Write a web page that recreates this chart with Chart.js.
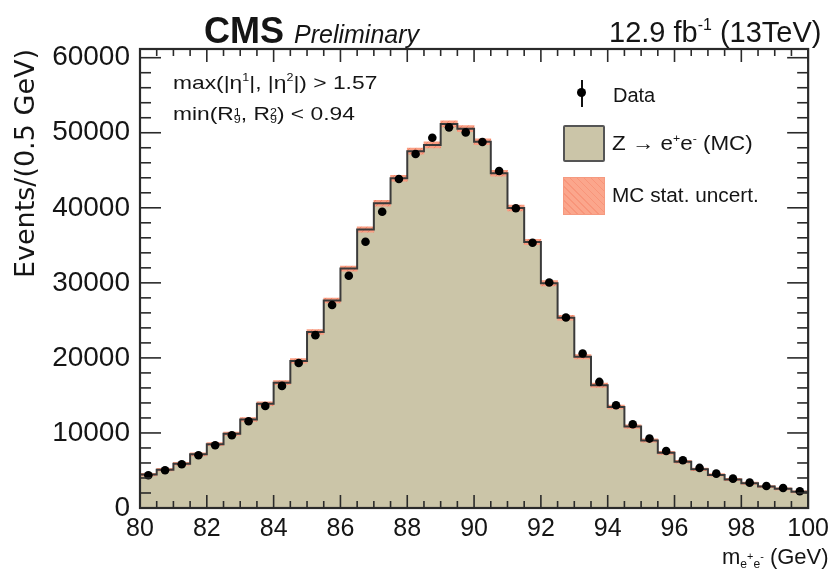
<!DOCTYPE html>
<html><head><meta charset="utf-8">
<script src="https://cdn.jsdelivr.net/npm/chart.js@4.4.1/dist/chart.umd.min.js"></script>
<style>
html,body{margin:0;padding:0;background:#fff;}
#wrap{position:relative;width:835px;height:574px;overflow:hidden;font-family:'Liberation Sans',Arial,Helvetica,sans-serif;color:#151515;}
canvas{position:absolute;left:0;top:0;}
.t{position:absolute;white-space:nowrap;line-height:1;transform-origin:0 0;}
.sp{font-size:0.55em;vertical-align:0.75em;}
.sb{font-size:0.55em;vertical-align:-0.3em;}
.ss{display:inline-block;vertical-align:-0.25em;line-height:0.62;font-size:0.55em;text-align:left;}
</style></head><body>
<div id="wrap">
<canvas id="c" width="835" height="574"></canvas>
<div class="t" style="left:204px;top:13px;font-size:36px;font-weight:bold;">CMS</div>
<div class="t" style="left:294px;top:22px;font-size:25px;font-style:italic;">Preliminary</div>
<div class="t" style="left:609px;top:17px;font-size:29px;">12.9 fb<span class="sp">-1</span> (13TeV)</div>
<div class="t" style="left:173px;top:73px;font-size:19px;transform:scaleX(1.2);">max(|η<span class="sp">1</span>|, |η<span class="sp">2</span>|) &gt; 1.57</div>
<div class="t" style="left:173px;top:104px;font-size:19px;transform:scaleX(1.2);">min(R<span class="ss">1<br>9</span>, R<span class="ss">2<br>9</span>) &lt; 0.94</div>
<div style="position:absolute;left:581px;top:80px;width:2px;height:27px;background:#111;"></div>
<div style="position:absolute;left:577px;top:88px;width:9px;height:9px;border-radius:50%;background:#000;"></div>
<div class="t" style="left:613px;top:85px;font-size:20px;">Data</div>
<div style="position:absolute;left:563px;top:125px;width:38px;height:33px;background:#cbc5a8;border:2px solid #555;border-radius:2px;"></div>
<div class="t" style="left:612px;top:133px;font-size:20px;transform:scaleX(1.12);">Z → e<span class="sp">+</span>e<span class="sp">-</span> (MC)</div>
<div style="position:absolute;left:563px;top:177px;width:40px;height:36px;background:repeating-linear-gradient(45deg,#fba68c 0px,#fba68c 4px,#f8957a 4px,#f8957a 5px);border:1px solid #f59a80;"></div>
<div class="t" style="left:612px;top:185px;font-size:20px;transform:scaleX(1.04);">MC stat. uncert.</div>
<div class="t" style="left:722px;top:546px;font-size:22px;">m<span class="sb">e<span class="sp" style="font-size:0.9em">+</span>e<span class="sp" style="font-size:0.9em">-</span></span> (GeV)</div>
</div>
<script>
// ---- data ----
const binLowEdges = [80.0,80.5,81.0,81.5,82.0,82.5,83.0,83.5,84.0,84.5,85.0,85.5,86.0,86.5,87.0,87.5,88.0,88.5,89.0,89.5,
                     90.0,90.5,91.0,91.5,92.0,92.5,93.0,93.5,94.0,94.5,95.0,95.5,96.0,96.5,97.0,97.5,98.0,98.5,99.0,99.5];
const binWidth = 0.5;
const dataEvents = [4360,5030,5830,7030,8360,9690,11560,13600,16270,19330,23030,27050,30940,35470,39480,43830,47160,49340,50720,50050,
                    48760,44900,39950,35340,30050,25390,20590,16800,13690,11160,9250,7600,6360,5340,4580,3910,3380,2940,2670,2230];
const mcEvents   = [4450,5100,5900,7150,8500,9900,11800,13900,16700,19600,23450,27650,31900,37100,40600,43950,47550,48380,51180,50550,
                    48800,44600,39980,35450,29950,25350,20150,16350,13450,10850,9000,7350,6150,5150,4400,3800,3300,2850,2550,2150];
const mcStatUnc  = [160,170,180,200,210,230,250,260,280,300,310,330,350,360,380,390,400,400,410,410,
                    400,390,380,360,350,320,300,280,250,230,220,200,190,180,170,160,150,150,140,140];
const xTickLabels = [80,82,84,86,88,90,92,94,96,98,100];
const yTickLabels = [0,10000,20000,30000,40000,50000,60000];
const xRange = [80,100];
const yRange = [0,61160];

// ---- derived tables ----
const stepPts = binLowEdges.map((e,i)=>({x:e,y:mcEvents[i]}));
stepPts.push({x:binLowEdges[binLowEdges.length-1]+binWidth,y:mcEvents[mcEvents.length-1]});
const bandPts = binLowEdges.map((e,i)=>({x:e+binWidth/2,y:[mcEvents[i]-mcStatUnc[i],mcEvents[i]+mcStatUnc[i]]}));
const dataPts = binLowEdges.map((e,i)=>({x:e+binWidth/2,y:dataEvents[i]}));

const ctx = document.getElementById('c').getContext('2d');
function hatch(){
  const c=document.createElement('canvas'); c.width=c.height=6;
  const g=c.getContext('2d'); g.fillStyle='#fa9f84'; g.fillRect(0,0,6,6);
  g.strokeStyle='#f0856a'; g.lineWidth=1; g.beginPath(); g.moveTo(0,6); g.lineTo(6,0); g.stroke();
  return ctx.createPattern(c,'repeat');
}

const frameTicks = {
  id:'frameTicks',
  afterDatasetsDraw(chart){
    const {ctx, chartArea:a, scales:{x,y}} = chart;
    ctx.save();
    ctx.strokeStyle='#2a2a2a'; ctx.lineWidth=1.6;
    const ln=(x1,y1,x2,y2)=>{ctx.beginPath();ctx.moveTo(x1,y1);ctx.lineTo(x2,y2);ctx.stroke();};
    for(let k=0;k<=40;k++){
      const v=xRange[0]+k*0.5, px=x.getPixelForValue(v), L=(k%4===0)?13:7;
      ln(px,a.bottom,px,a.bottom-L); ln(px,a.top,px,a.top+L);
    }
    for(let k=0;k*2000<=yRange[1];k++){
      const v=k*2000, py=y.getPixelForValue(v), L=(k%5===0)?21:11;
      ln(a.left,py,a.left+L,py); ln(a.right,py,a.right-L,py);
    }
    ctx.lineWidth=2.2; ctx.strokeRect(a.left,a.top,a.right-a.left,a.bottom-a.top);
    ctx.restore();
  }
};

new Chart(ctx,{
  type:'bar',
  data:{datasets:[
    {type:'scatter',label:'Data',data:dataPts,pointRadius:4.3,pointBackgroundColor:'#000',pointBorderWidth:0,order:0},
    {type:'line',label:'MC outline',data:stepPts,stepped:true,borderColor:'#3a3a3a',borderWidth:2,pointRadius:0,fill:false,order:1},
    {type:'bar',label:'MC stat. uncert.',data:bandPts,backgroundColor:hatch(),borderWidth:0,barPercentage:1,categoryPercentage:1,order:2},
    {type:'line',label:'Z->ee (MC)',data:stepPts,stepped:true,borderWidth:0,borderColor:'rgba(0,0,0,0)',pointRadius:0,fill:'origin',backgroundColor:'#cbc5a8',order:3}
  ]},
  options:{
    responsive:false, animation:false, devicePixelRatio:1,
    layout:{padding:{top:49,right:25,left:0,bottom:0}},
    plugins:{legend:{display:false},tooltip:{enabled:false},title:{display:false}},
    scales:{
      x:{type:'linear',min:xRange[0],max:xRange[1],offset:false,
         grid:{display:false,drawTicks:false},border:{display:false},
         afterBuildTicks:s=>{s.ticks=xTickLabels.map(v=>({value:v}));},
         afterFit:s=>{s.height=66;},
         ticks:{autoSkip:false,maxRotation:0,padding:6,color:'#151515',
                font:{family:"'Liberation Sans Narrow','Arial Narrow','Liberation Sans',sans-serif",size:25},
                callback:v=>String(v)}},
      y:{type:'linear',min:yRange[0],max:yRange[1],
         grid:{display:false,drawTicks:false},border:{display:false},
         afterBuildTicks:s=>{s.ticks=yTickLabels.map(v=>({value:v}));},
         afterFit:s=>{s.width=140;},
         title:{display:true,text:'Events/(0.5 GeV)',align:'end',color:'#151515',
                font:{family:"'DejaVu Sans',sans-serif",size:27},padding:{top:11,bottom:0}},
         ticks:{padding:10,color:'#151515',
                font:{family:"'Liberation Sans',Arial,sans-serif",size:28},
                callback:v=>String(v)}}
    }
  },
  plugins:[frameTicks]
});
</script>
</body></html>
